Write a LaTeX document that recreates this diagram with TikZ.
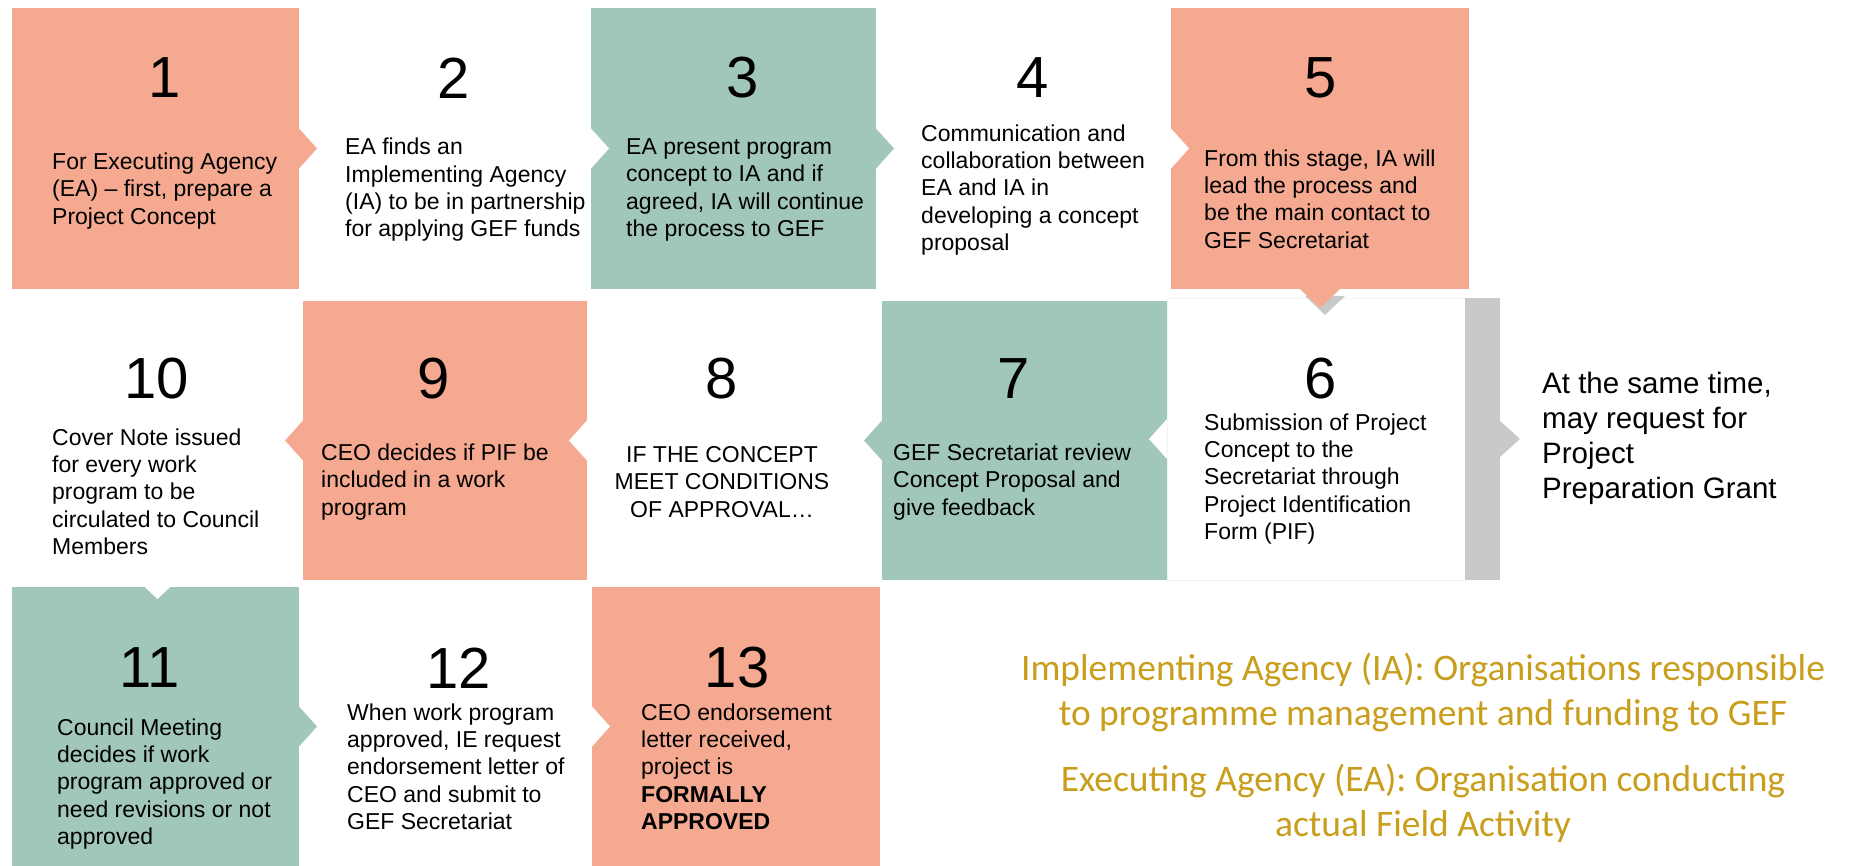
\documentclass[tikz,border=0pt]{standalone}
\usepackage{fontspec}
\setmainfont{Liberation Sans}
\newfontfamily\legendfont{Carlito}
\usetikzlibrary{positioning}
\definecolor{salmonfill}{RGB}{245,169,144}
\definecolor{tealfill}{RGB}{161,199,188}
\definecolor{barfill}{RGB}{201,201,201}
\definecolor{goldtext}{RGB}{200,158,28}

\begin{document}
\begin{tikzpicture}[x=1pt, y=-1pt,
    box/.style={rectangle, inner sep=0pt, outer sep=0pt},
    num/.style={inner sep=0pt, font=\fontsize{58}{60}\selectfont},
    txt/.style={anchor=west, align=left, inner sep=0pt, font=\fontsize{23}{27.3}\selectfont},
    legend/.style={align=center, inner sep=0pt, text=goldtext, font=\legendfont\fontsize{37.5}{45}\selectfont}]
    \useasboundingbox (0,0) rectangle (1849,866);

    % first row, left to right
    \node [box, fill=salmonfill, minimum width=287pt, minimum height=281pt] (b1) at (155.5,148.5) {};
    \node [box, minimum width=292pt, minimum height=281pt] (b2) at (445,148.5) {};
    \node [box, fill=tealfill, minimum width=285pt, minimum height=281pt] (b3) at (733.5,148.5) {};
    \node [box, minimum width=295pt, minimum height=281pt] (b4) at (1023.5,148.5) {};
    \node [box, fill=salmonfill, minimum width=298pt, minimum height=281pt] (b5) at (1320,148.5) {};

    % second row, right to left
    \node [box, draw=black!5, minimum width=298pt, minimum height=282pt] (b6) at (1316,439) {};
    \node [box, fill=barfill, minimum width=35pt, minimum height=282pt] (bar) at (1482.5,439) {};
    \node [box, fill=tealfill, minimum width=285pt, minimum height=279pt] (b7) at (1024.5,440.5) {};
    \node [box, minimum width=295pt, minimum height=279pt] (b8) at (734.5,440.5) {};
    \node [box, fill=salmonfill, minimum width=284pt, minimum height=279pt] (b9) at (445,440.5) {};
    \node [box, minimum width=291pt, minimum height=279pt] (b10) at (157.5,440.5) {};

    % third row
    \node [box, fill=tealfill, minimum width=287pt, minimum height=279pt] (b11) at (155.5,726.5) {};
    \node [box, minimum width=293pt, minimum height=279pt] (b12) at (445.5,726.5) {};
    \node [box, fill=salmonfill, minimum width=288pt, minimum height=279pt] (b13) at (736,726.5) {};

    % chevron tips between steps
    \fill [salmonfill] ([yshift=20pt]b1.east) -- ([xshift=18pt]b1.east) -- ([yshift=-20pt]b1.east) -- cycle;
    \fill [white] ([yshift=20pt]b2.east) -- ([xshift=18pt]b2.east) -- ([yshift=-20pt]b2.east) -- cycle;
    \fill [tealfill] ([yshift=20pt]b3.east) -- ([xshift=18pt]b3.east) -- ([yshift=-20pt]b3.east) -- cycle;
    \fill [white] ([yshift=20pt]b4.east) -- ([xshift=18pt]b4.east) -- ([yshift=-20pt]b4.east) -- cycle;
    \fill [barfill] ([xshift=-15pt,yshift=-7pt]b5.south) -- ([xshift=5pt,yshift=-26pt]b5.south) -- ([xshift=25pt,yshift=-7pt]b5.south) -- cycle;
    \fill [salmonfill] ([xshift=-20pt]b5.south) -- ([yshift=-19pt]b5.south) -- ([xshift=20pt]b5.south) -- cycle;
    \fill [barfill] ([yshift=18pt]bar.east) -- ([xshift=20pt]bar.east) -- ([yshift=-18pt]bar.east) -- cycle;
    \fill [white] ([yshift=20pt]b6.west) -- ([xshift=-18pt]b6.west) -- ([yshift=-20pt]b6.west) -- cycle;
    \fill [tealfill] ([yshift=20pt]b7.west) -- ([xshift=-18pt]b7.west) -- ([yshift=-20pt]b7.west) -- cycle;
    \fill [white] ([yshift=20pt]b8.west) -- ([xshift=-18pt]b8.west) -- ([yshift=-20pt]b8.west) -- cycle;
    \fill [salmonfill] ([yshift=20pt]b9.west) -- ([xshift=-18pt]b9.west) -- ([yshift=-20pt]b9.west) -- cycle;
    \fill [white] ([xshift=-20pt]b10.south) -- ([yshift=-19pt]b10.south) -- ([xshift=20pt]b10.south) -- cycle;
    \fill [tealfill] ([yshift=20pt]b11.east) -- ([xshift=18pt]b11.east) -- ([yshift=-20pt]b11.east) -- cycle;
    \fill [white] ([yshift=20pt]b12.east) -- ([xshift=18pt]b12.east) -- ([yshift=-20pt]b12.east) -- cycle;

    % step numbers
    \node [num] (n1) at (165,78) {1};
    \node [num] (n2) at (454,78) {2};
    \node [num] (n3) at (743,78) {3};
    \node [num] (n4) at (1033,78) {4};
    \node [num] (n5) at (1321,78) {5};
    \node [num] (n6) at (1321,379) {6};
    \node [num] (n7) at (1014,379) {7};
    \node [num] (n8) at (722,379) {8};
    \node [num] (n9) at (434,379) {9};
    \node [num] (n10) at (157,379) {10};
    \node [num] (n11) at (150,668) {11};
    \node [num] (n12) at (459,668) {12};
    \node [num] (n13) at (737,668) {13};

    % step texts
    \node [txt] (t1) at (52,191) {For Executing Agency\\(EA) – first, prepare a\\Project Concept};
    \node [txt] (t2) at (345,190) {EA finds an\\Implementing Agency\\(IA) to be in partnership\\for applying GEF funds};
    \node [txt] (t3) at (626,190) {EA present program\\concept to IA and if\\agreed, IA will continue\\the process to GEF};
    \node [txt] (t4) at (921,190) {Communication and\\collaboration between\\EA and IA in\\developing a concept\\proposal};
    \node [txt] (t5) at (1204,199) {From this stage, IA will\\lead the process and\\be the main contact to\\GEF Secretariat};
    \node [txt] (t6) at (1204,479) {Submission of Project\\Concept to the\\Secretariat through\\Project Identification\\Form (PIF)};
    \node [txt, font=\fontsize{29.5}{35}\selectfont] (side) at (1542,438) {At the same time,\\may request for\\Project\\Preparation Grant};
    \node [txt] (t7) at (893,482) {GEF Secretariat review\\Concept Proposal and\\give feedback};
    \node [txt, anchor=center, align=center] (t8) at (722,482) {IF THE CONCEPT\\MEET CONDITIONS\\OF APPROVAL…};
    \node [txt] (t9) at (321,482) {CEO decides if PIF be\\included in a work\\program};
    \node [txt] (t10) at (52,491.5) {Cover Note issued\\for every work\\program to be\\circulated to Council\\Members};
    \node [txt] (t11) at (57,784) {Council Meeting\\decides if work\\program approved or\\need revisions or not\\approved};
    \node [txt] (t12) at (347,766.5) {When work program\\approved, IE request\\endorsement letter of\\CEO and submit to\\GEF Secretariat};
    \node [txt] (t13) at (641,766.5) {CEO endorsement\\letter received,\\project is\\\textbf{FORMALLY}\\\textbf{APPROVED}};

    % definitions
    \node [legend] (ia) at (1423,692.5) {Implementing Agency (IA): Organisations responsible\\to programme management and funding to GEF};
    \node [legend] (ea) at (1423,803) {Executing Agency (EA): Organisation conducting\\actual Field Activity};
\end{tikzpicture}
\end{document}
